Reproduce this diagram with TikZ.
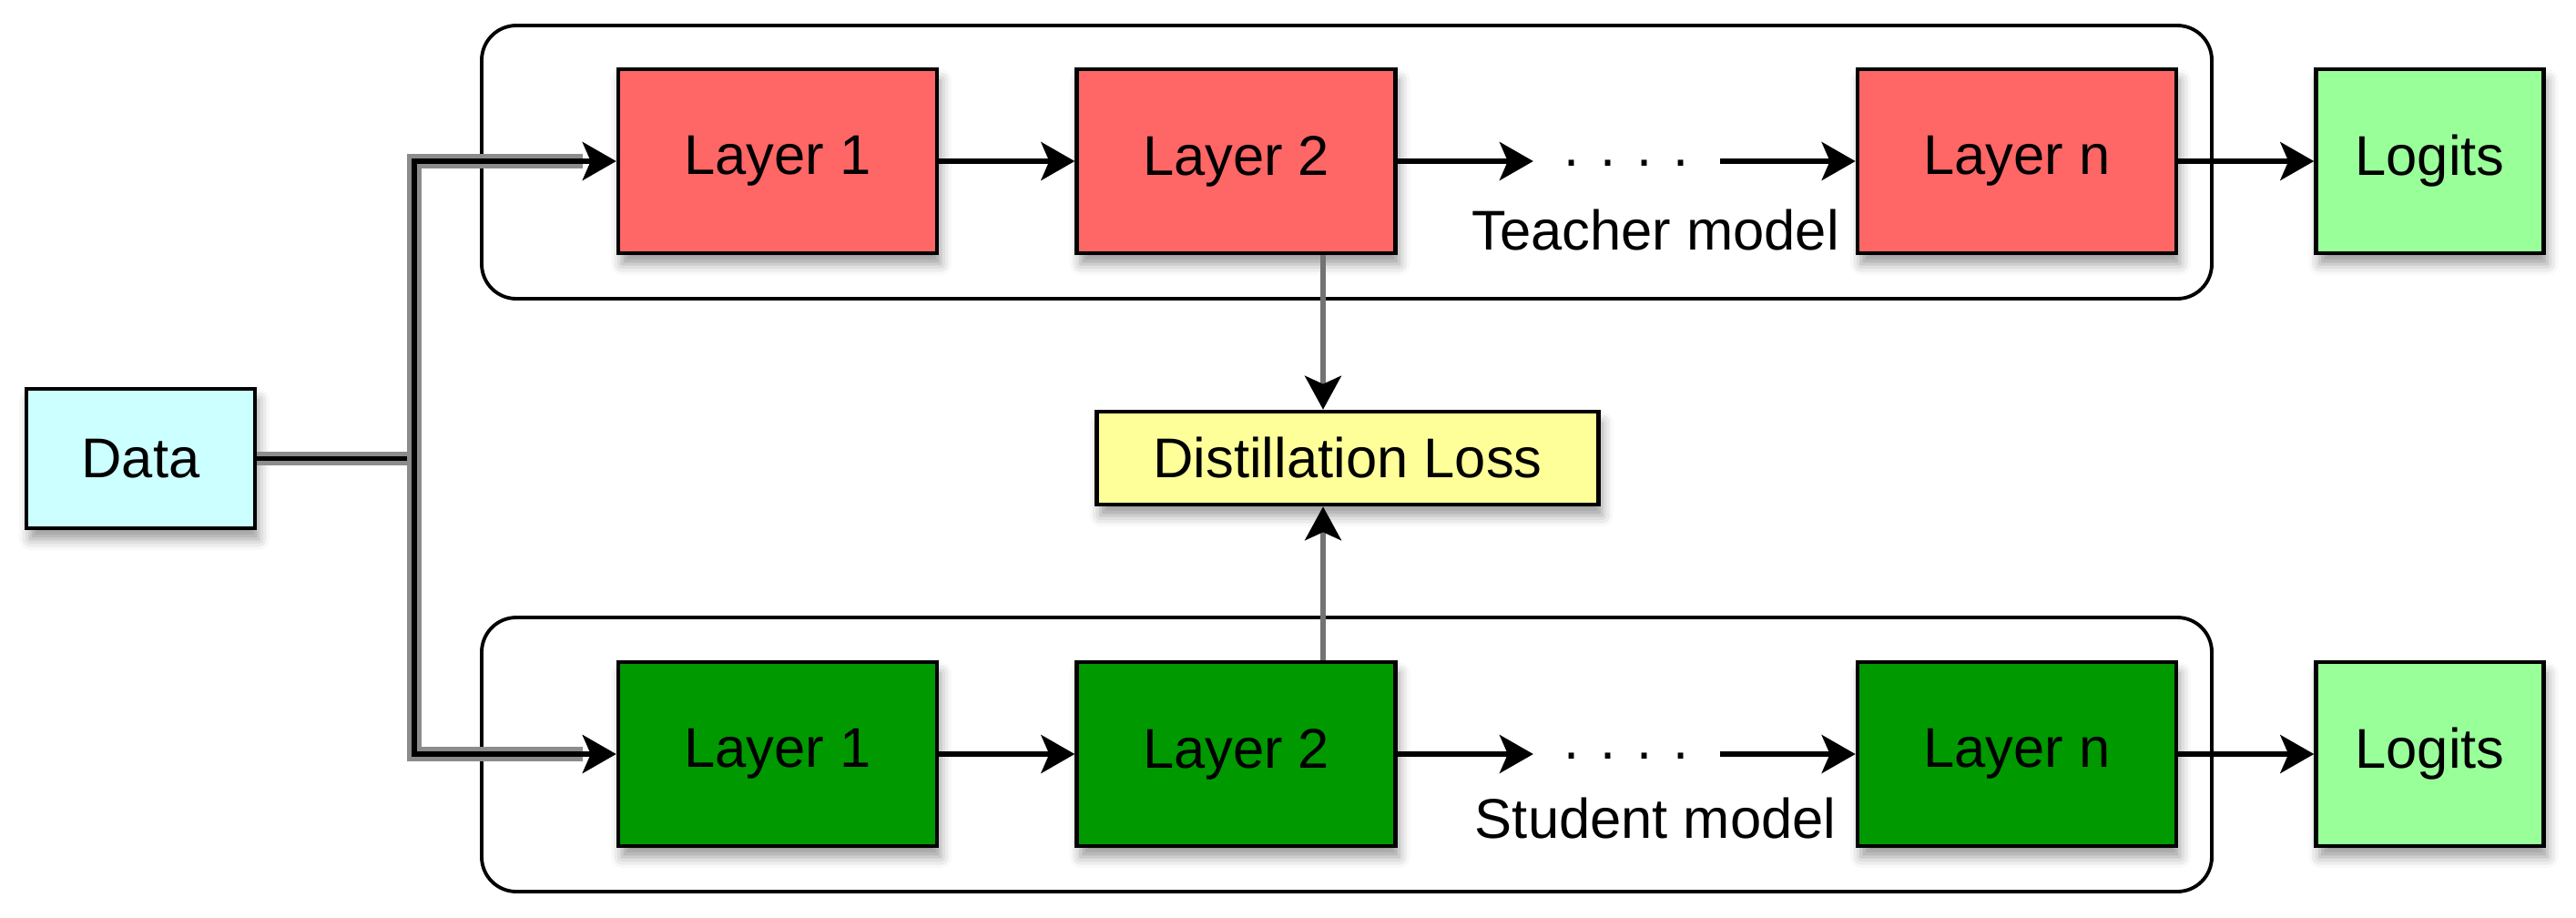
\documentclass[tikz,border=0pt]{standalone}
\usepackage{fontspec}
\setmainfont{Liberation Sans}
\usepackage{xcolor}
\usetikzlibrary{positioning, arrows.meta, shadows.blur}

\definecolor{teachred}{HTML}{FF6666}
\definecolor{studgreen}{HTML}{009900}
\definecolor{logitgreen}{HTML}{99FF99}
\definecolor{datacyan}{HTML}{CCFFFF}
\definecolor{lossyellow}{HTML}{FFFF99}

\newcommand{\lfont}{\fontsize{17.5}{21}\selectfont}
\newcommand{\fourdots}{.\hspace{0.23cm}.\hspace{0.23cm}.\hspace{0.23cm}.}

\begin{document}
\begin{tikzpicture}[
    bx/.style={rectangle, draw, line width=1.3pt, minimum width=3.5cm,
        minimum height=2.02cm, font=\lfont,
        blur shadow={shadow xshift=0.04cm, shadow yshift=-0.12cm,
            shadow blur radius=0.12cm, shadow opacity=40}},
    tl/.style={bx, fill=teachred},
    sl/.style={bx, fill=studgreen},
    lg/.style={bx, fill=logitgreen, minimum width=2.5cm},
    dt/.style={inner xsep=0.33cm, inner ysep=0pt, text height=0.1cm,
        text depth=0pt, font=\lfont},
    lbl/.style={font=\lfont, anchor=base},
    frame/.style={draw, line width=1.1pt, rounded corners=0.38cm},
    ar/.style={-{Stealth[length=0.37cm, width=0.42cm, inset=0.09cm]},
        line width=1.5pt},
    gar/.style={draw=black!55, line width=1.5pt,
        -{Stealth[length=0.37cm, width=0.4cm, inset=0.09cm, black]}},
    bus/.style={line width=1.6pt,
        preaction={draw, -, black!45, line width=4.3pt}},
    busar/.style={ar, line width=1.6pt,
        preaction={draw, -, black!45, line width=4.3pt, shorten >=0.37cm}},
    node distance=1.49cm]
\useasboundingbox (0,0) rectangle (28.29,-10.07);

% model frames
\draw[frame] (5.29,-0.28) rectangle (24.29,-3.28);
\draw[frame] (5.29,-6.78) rectangle (24.29,-9.79);

% teacher
\node[tl] (T1) at (8.54,-1.77) {Layer 1};
\node[tl, right=of T1] (T2) {Layer 2};
\node[dt, right=of T2] (Td) {\fourdots};
\node[tl, right=of Td] (Tn) {Layer n};
\node[lg, right=of Tn] (TL) {Logits};
\node[lbl] (Tm) at ([xshift=0.32cm, yshift=-0.97cm]Td.center) {Teacher model};

% student
\node[sl] (S1) at (8.54,-8.28) {Layer 1};
\node[sl, right=of S1] (S2) {Layer 2};
\node[dt, right=of S2] (Sd) {\fourdots};
\node[sl, right=of Sd] (Sn) {Layer n};
\node[lg, right=of Sn] (SL) {Logits};
\node[lbl] (Sm) at ([xshift=0.32cm, yshift=-0.92cm]Sd.center) {Student model};

\node[bx, fill=datacyan, minimum width=2.51cm, minimum height=1.53cm]
    (D) at (1.545,-5.035) {Data};
\node[bx, fill=lossyellow, minimum width=5.51cm, minimum height=1.02cm]
    (DL) at (14.8,-5.03) {Distillation Loss};

% data bus
\coordinate (J) at (4.55,-5.035);
\draw[bus] (D.east) -- (J);
\draw[busar] (J) |- (T1.west);
\draw[busar] (J) |- (S1.west);

\draw[ar] (T1) -- (T2);
\draw[ar] (T2) -- (Td);
\draw[ar] (Td) -- (Tn);
\draw[ar] (Tn) -- (TL);
\draw[ar] (S1) -- (S2);
\draw[ar] (S2) -- (Sd);
\draw[ar] (Sd) -- (Sn);
\draw[ar] (Sn) -- (SL);

\draw[gar] ([xshift=-0.27cm]DL.north |- T2.south) -- ([xshift=-0.27cm]DL.north);
\draw[gar] ([xshift=-0.27cm]DL.south |- S2.north) -- ([xshift=-0.27cm]DL.south);
\end{tikzpicture}
\end{document}
